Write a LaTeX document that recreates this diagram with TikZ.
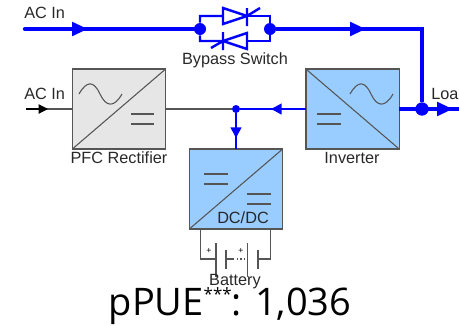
\documentclass[tikz,border=0pt]{standalone}
\usepackage{fontspec}
\setmainfont{Liberation Sans}
\newfontfamily\bigfont{Open Sans}
\usetikzlibrary{arrows.meta}
\definecolor{pureblue}{RGB}{0,0,255}
\definecolor{boxblue}{RGB}{153,204,255}
\definecolor{boxgrey}{RGB}{230,230,230}
\definecolor{edge}{RGB}{85,85,85}
\definecolor{ink}{RGB}{40,40,40}
\tikzset{
  x=0.75pt,y=-0.75pt,
  conv/.style={draw=edge,line width=1pt,minimum width=70pt,minimum height=60pt,inner sep=0pt,outer sep=0pt},
  symb/.style={draw=edge,line width=0.8pt},
  lab/.style={font=\fontsize{12.2pt}{14pt}\selectfont,text=ink,inner sep=0pt},
  mainline/.style={draw=pureblue,line width=3.2pt},
  mainhead/.style={draw=pureblue,line width=3.2pt,-{Triangle[length=12pt,width=10pt,fill=pureblue]}},
  thinline/.style={draw=pureblue,line width=1.7pt},
  thinhead/.style={draw=pureblue,line width=1.7pt,-{Triangle[length=8pt,width=8pt,fill=pureblue]}},
  jdot/.style={circle,fill=pureblue,inner sep=0pt,minimum size=#1},
  wire/.style={draw=edge,line width=0.8pt},
  scr/.style={draw=pureblue,line width=1.8pt},
}
\begin{document}
\begin{tikzpicture}
\useasboundingbox (0,0) rectangle (459,325);
\clip (0,0) rectangle (459,325);
% converters
\node[conv,fill=boxgrey] (pfc) at (119,109) {};
\node[conv,fill=boxblue] (inv) at (352.5,109) {};
\node[conv,fill=boxblue] (dc) at (236,189) {};
\draw[symb] (pfc.south west) -- (pfc.north east);
\draw[symb] (inv.north west) -- (inv.south east);
\draw[symb] (dc.south west) -- (dc.north east);
\draw[symb] (79,94) .. controls (87,80) and (94,81) .. (100,94) .. controls (106,107) and (114,108) .. (122,94);
\draw[symb] (350,94) .. controls (358,80) and (365,81) .. (371,94) .. controls (377,107) and (385,108) .. (393,94);
\draw[symb] (131,114) -- (154,114) (131,124) -- (154,124);
\draw[symb] (317,114) -- (341,114) (317,124) -- (341,124);
\draw[symb] (204,174) -- (228,174) (204,184) -- (228,184);
\draw[symb] (247,194) -- (271,194) (247,204) -- (271,204);
% coordinates and junctions
\coordinate (in1) at (25,29);
\coordinate (a1) at (88,29);
\node[jdot=9pt] (j1) at (200,29) {};
\node[jdot=9pt] (j2) at (270,29) {};
\coordinate (a2) at (366,29);
\coordinate (corner) at (422,29);
\node[jdot=10pt] (j3) at (422,109) {};
\coordinate (a3) at (453,109);
\coordinate (out) at (459,109);
\node[jdot=6pt] (j4) at (236,109) {};
\coordinate (in2) at (26,109);
\coordinate (a4) at (48,109);
\coordinate (a5) at (271,109);
\coordinate (a6) at (236,138);
% black and grey input line
\draw[wire] (in2) -- (pfc.west);
\draw[line width=0.8pt,-{Triangle[length=7pt,width=7pt,fill=black]},draw=black] (in2) -- (a4);
\draw[wire,line width=1pt] (pfc.east) -- (j4);
% blue power lines
\draw[mainline,line cap=round] (in1) -- (j1);
\draw[mainhead] (in1) -- (a1);
\draw[mainline,line join=miter] (j2) -- (corner) -- (j3);
\draw[mainhead] (j2) -- (a2);
\draw[mainline] (inv.east) -- (out);
\draw[mainhead] (j3) -- (a3);
\draw[thinline] (inv.west) -- (j4);
\draw[thinhead] (inv.west) -- (a5);
\draw[thinline] (j4) -- (dc.north);
\draw[thinhead] (j4) -- (a6);
% bypass thyristors
\draw[scr] (j1) |- (223,16) -- (223,8) -- (247,16) -- (223,24) -- (223,16);
\draw[scr] (247,8) -- (247,26) (247,16) -- (260,8);
\draw[scr] (247,16) -| (j2);
\draw[scr] (j1) |- (223,41) -- (247,33) -- (247,49) -- (223,41);
\draw[scr] (223,32) -- (223,50) (223,41) -- (211,48);
\draw[scr] (247,41) -| (j2);
% battery
\coordinate (b1) at (200.5,229);
\coordinate (b2) at (270.5,229);
\draw[wire] (b1) |- (216,259);
\draw[wire] (216,243) -- (216,277);
\draw[wire] (226,250) -- (226,269);
\draw[wire] (226,259) -- (233,259);
\draw[wire,dotted] (233,259) -- (247.5,259);
\draw[wire] (247.5,243) -- (247.5,277);
\draw[wire] (258,250) -- (258,269);
\draw[wire] (258,259) -| (b2);
\node[inner sep=0pt,text=black,font=\fontsize{6.5pt}{6.5pt}\selectfont] (p1) at (209,251) {+};
\node[inner sep=0pt,text=black,font=\fontsize{6.5pt}{6.5pt}\selectfont] (p2) at (241,251) {+};
% labels
\node[lab,anchor=west] (l1) at (24,13) {AC In};
\node[lab,anchor=west] (l2) at (24,94) {AC In};
\node[lab] (l3) at (235,60) {Bypass Switch};
\node[lab] (l4) at (119,158) {PFC Rectifier};
\node[lab] (l5) at (352,158) {Inverter};
\node[lab,anchor=west] (l6) at (431,94) {Load};
\node[lab] (l7) at (243,218) {DC/DC};
\node[lab] (l8) at (235,282) {Battery};
\node[inner sep=0pt,anchor=base,text=black,font=\bigfont\fontsize{28.5pt}{32pt}\selectfont] (ppue) at (230,315) {pPUE\raisebox{10.8pt}{\fontsize{12.7pt}{13pt}\selectfont ***}: 1,036};
\end{tikzpicture}
\end{document}
